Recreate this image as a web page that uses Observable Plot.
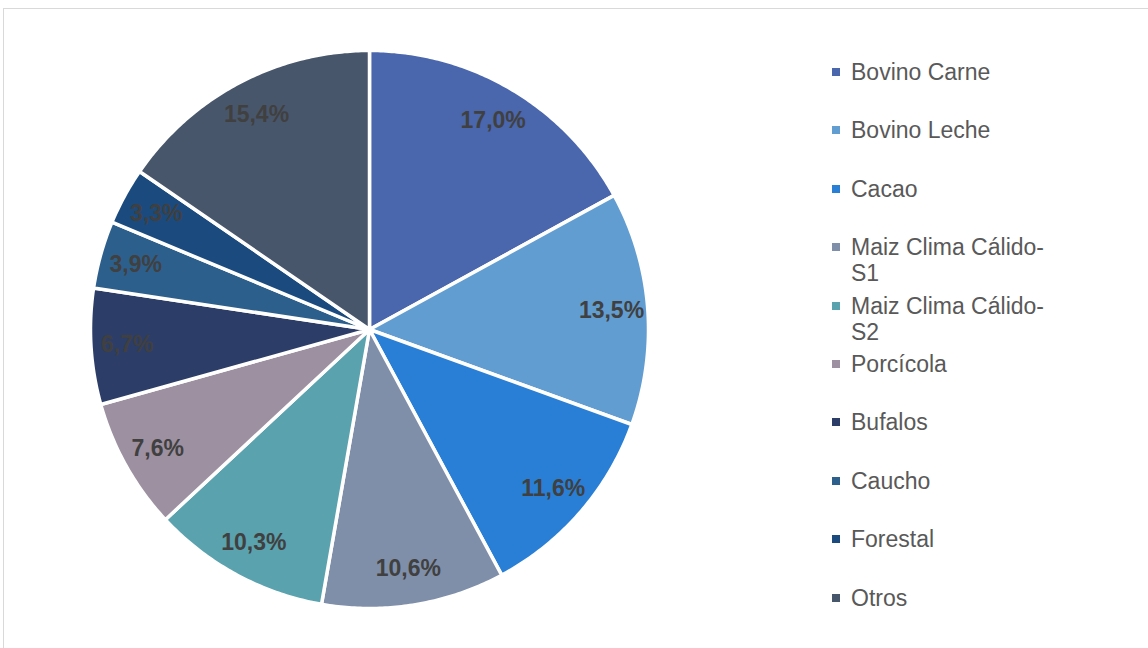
<!DOCTYPE html>
<html>
<head>
<meta charset="utf-8">
<script src="https://cdn.jsdelivr.net/npm/d3@7"></script>
<script src="https://cdn.jsdelivr.net/npm/@observablehq/plot@0.6"></script>
<style>
  html, body { margin: 0; padding: 0; background: #fff; }
  #wrap { position: relative; width: 1148px; height: 648px; overflow: hidden; font-family: "Liberation Sans", Arial, sans-serif; }
  #frame { position: absolute; left: 3px; top: 8px; width: 1160px; height: 660px; border: 1px solid #d9d9d9; box-sizing: border-box; }
  #chart { position: absolute; left: 0; top: 0; }
  .item { position: absolute; left: 832px; width: 215px; font-size: 23px; line-height: 26px; color: #595959; }
  .sw { position: absolute; left: 0; top: 9px; width: 8px; height: 8px; }
  .lbl { position: absolute; left: 19px; top: 0; width: 200px; }
</style>
</head>
<body>
<div id="wrap">
  <div id="frame"></div>
  <div id="chart"></div>
  <div id="legend"></div>
</div>
<script>
const categories = ["Bovino Carne", "Bovino Leche", "Cacao", "Maiz Clima Cálido-S1", "Maiz Clima Cálido-S2", "Porcícola", "Bufalos", "Caucho", "Forestal", "Otros"];
const values = [17.0, 13.5, 11.6, 10.6, 10.3, 7.6, 6.7, 3.9, 3.3, 15.4];
const valueLabels = ["17,0%", "13,5%", "11,6%", "10,6%", "10,3%", "7,6%", "6,7%", "3,9%", "3,3%", "15,4%"];
const colors = ["#4A66AC", "#629DD1", "#297FD5", "#7F8FA9", "#5AA2AE", "#9D90A0", "#2C3D67", "#2D5F8C", "#1B4A7E", "#48566B"];

const total = d3.sum(values);
let acc = 0;
const slices = categories.map((c, i) => {
  const a0 = acc / total * 2 * Math.PI;
  acc += values[i];
  const a1 = acc / total * 2 * Math.PI;
  return {category: c, value: values[i], label: valueLabels[i], a0, a1};
});

// Build slice polygons in unit coordinates (angle clockwise from top)
const features = slices.map(s => {
  const ring = [[0, 0]];
  const n = Math.max(8, Math.ceil((s.a1 - s.a0) / 0.01));
  for (let k = 0; k <= n; k++) {
    const a = s.a0 + (s.a1 - s.a0) * k / n;
    ring.push([Math.sin(a), Math.cos(a)]);
  }
  ring.push([0, 0]);
  return {type: "Feature", properties: {category: s.category}, geometry: {type: "Polygon", coordinates: [ring]}};
});

const labelR = 0.87;
const labelData = slices.map(s => {
  const m = (s.a0 + s.a1) / 2;
  return {x: labelR * Math.sin(m), y: labelR * Math.cos(m), label: s.label};
});

const chart = Plot.plot({
  width: 740,
  height: 648,
  marginLeft: 90,
  marginRight: 92,
  marginTop: 50,
  marginBottom: 40,
  projection: {type: "reflect-y", domain: {type: "MultiPoint", coordinates: [[-1, -1], [1, 1]]}},
  color: {domain: categories, range: colors},
  marks: [
    Plot.geo(features, {fill: d => d.properties.category, stroke: "white", strokeWidth: 3.5, strokeLinejoin: "round"}),
    Plot.text(labelData, {x: "x", y: "y", text: "label", fontSize: 23, fontWeight: "bold", fill: "#404040", fontFamily: "Liberation Sans, Arial, sans-serif"})
  ]
});
document.getElementById("chart").appendChild(chart);

const legend = document.getElementById("legend");
categories.forEach((c, i) => {
  const item = document.createElement("div");
  item.className = "item";
  item.style.top = (59 + i * 58.4) + "px";
  const sw = document.createElement("div");
  sw.className = "sw";
  sw.style.background = colors[i];
  const t = document.createElement("div");
  t.className = "lbl";
  t.textContent = c.replace("-", "-\u200B");
  item.appendChild(sw);
  item.appendChild(t);
  legend.appendChild(item);
});
</script>
</body>
</html>
